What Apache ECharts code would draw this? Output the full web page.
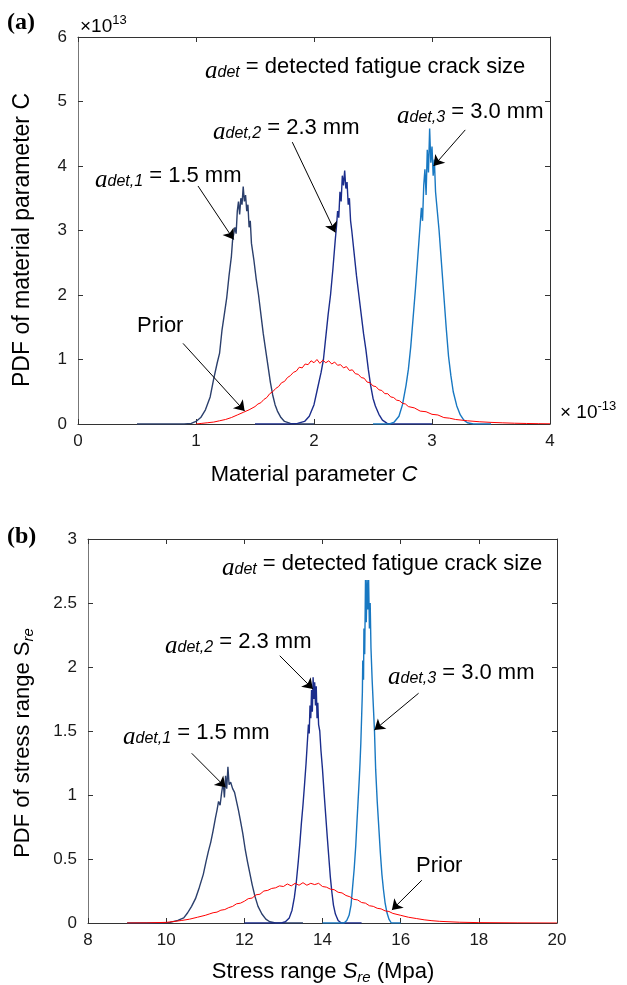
<!DOCTYPE html>
<html>
<head>
<meta charset="utf-8">
<script src="https://cdn.jsdelivr.net/npm/echarts@6/dist/echarts.min.js"></script>
<style>
  html, body { margin: 0; padding: 0; background: #fff; }
  #chart { width: 627px; height: 985px; }
</style>
</head>
<body>
<div id="chart"></div>
<script>
// ---- panel (a): material parameter C (x10^-13) vs PDF (x10^13) ----
var aTicksX = [0, 1, 2, 3, 4];
var aTicksY = [0, 1, 2, 3, 4, 5, 6];

var aDet1C   = [0.50, 0.90, 0.96, 1.00, 1.04, 1.08, 1.12, 1.15, 1.18, 1.20, 1.22, 1.24, 1.26, 1.28, 1.30, 1.31, 1.33, 1.34, 1.35, 1.36, 1.37, 1.38, 1.39, 1.40, 1.41, 1.42, 1.43, 1.44, 1.45, 1.46, 1.47, 1.49, 1.51, 1.53, 1.55, 1.57, 1.59, 1.61, 1.63, 1.65, 1.67, 1.69, 1.72, 1.75, 1.80, 1.85, 2.00];
var aDet1Pdf = [0, 0, 0.01, 0.04, 0.10, 0.22, 0.42, 0.70, 0.95, 1.10, 1.45, 1.70, 1.95, 2.30, 2.60, 2.85, 3.05, 2.95, 3.30, 3.45, 3.25, 3.50, 3.40, 3.68, 3.45, 3.55, 3.30, 3.40, 3.05, 3.15, 2.80, 2.55, 2.25, 2.00, 1.70, 1.40, 1.15, 0.90, 0.65, 0.45, 0.30, 0.20, 0.10, 0.04, 0.01, 0, 0];

var aDet2C   = [1.50, 1.80, 1.86, 1.92, 1.96, 2.00, 2.03, 2.06, 2.08, 2.10, 2.12, 2.14, 2.16, 2.18, 2.19, 2.20, 2.21, 2.22, 2.23, 2.24, 2.25, 2.26, 2.27, 2.28, 2.29, 2.30, 2.31, 2.32, 2.34, 2.36, 2.38, 2.40, 2.42, 2.44, 2.46, 2.48, 2.50, 2.52, 2.55, 2.58, 2.62, 2.66, 3.00];
var aDet2Pdf = [0, 0, 0.01, 0.04, 0.12, 0.30, 0.55, 0.80, 1.00, 1.35, 1.70, 2.00, 2.40, 2.85, 3.05, 3.30, 3.20, 3.60, 3.45, 3.85, 3.70, 3.93, 3.65, 3.75, 3.40, 3.50, 3.15, 3.00, 2.65, 2.30, 2.00, 1.70, 1.40, 1.15, 0.85, 0.60, 0.40, 0.28, 0.15, 0.06, 0.01, 0, 0];

var aDet3C   = [2.50, 2.64, 2.68, 2.72, 2.75, 2.78, 2.80, 2.82, 2.84, 2.86, 2.88, 2.89, 2.90, 2.91, 2.92, 2.93, 2.94, 2.95, 2.96, 2.97, 2.98, 2.99, 3.00, 3.01, 3.02, 3.03, 3.04, 3.06, 3.08, 3.10, 3.12, 3.14, 3.16, 3.18, 3.21, 3.24, 3.27, 3.30, 3.35, 3.50];
var aDet3Pdf = [0, 0, 0.03, 0.12, 0.30, 0.60, 0.85, 1.20, 1.65, 2.10, 2.60, 2.85, 3.10, 3.35, 3.15, 3.70, 3.95, 3.55, 4.25, 3.90, 4.58, 4.05, 4.30, 3.85, 4.10, 3.60, 3.40, 3.00, 2.50, 2.00, 1.50, 1.05, 0.75, 0.50, 0.28, 0.14, 0.06, 0.02, 0, 0];

var aPriorC   = [1.00, 1.05, 1.10, 1.15, 1.20, 1.25, 1.30, 1.35, 1.40, 1.45, 1.50, 1.525, 1.55, 1.575, 1.60, 1.625, 1.65, 1.675, 1.70, 1.725, 1.75, 1.775, 1.80, 1.825, 1.85, 1.875, 1.90, 1.925, 1.95, 1.975, 2.00, 2.025, 2.05, 2.075, 2.10, 2.125, 2.15, 2.175, 2.20, 2.225, 2.25, 2.275, 2.30, 2.325, 2.35, 2.375, 2.40, 2.425, 2.45, 2.475, 2.50, 2.525, 2.55, 2.575, 2.60, 2.625, 2.65, 2.675, 2.70, 2.725, 2.75, 2.775, 2.80, 2.85, 2.90, 2.95, 3.00, 3.05, 3.10, 3.15, 3.20, 3.30, 3.40, 3.50, 3.60, 3.70, 3.80, 3.90, 4.00];
var aPriorPdf = [0, 0.01, 0.02, 0.03, 0.05, 0.07, 0.10, 0.14, 0.18, 0.22, 0.27, 0.31, 0.33, 0.38, 0.41, 0.47, 0.50, 0.55, 0.58, 0.64, 0.66, 0.72, 0.75, 0.80, 0.82, 0.88, 0.87, 0.93, 0.92, 0.98, 0.95, 1.00, 0.94, 0.99, 0.95, 0.98, 0.93, 0.96, 0.91, 0.92, 0.87, 0.89, 0.83, 0.84, 0.78, 0.77, 0.72, 0.71, 0.65, 0.64, 0.59, 0.58, 0.53, 0.52, 0.47, 0.47, 0.42, 0.41, 0.37, 0.36, 0.32, 0.31, 0.27, 0.25, 0.20, 0.19, 0.15, 0.14, 0.10, 0.09, 0.07, 0.05, 0.035, 0.025, 0.018, 0.012, 0.008, 0.005, 0.003];

// ---- panel (b): stress range S_re (MPa) vs PDF ----
var bTicksX = [8, 10, 12, 14, 16, 18, 20];
var bTicksY = [0, 0.5, 1, 1.5, 2, 2.5, 3];

var bDet1S   = [9.0, 9.9, 10.1, 10.3, 10.45, 10.55, 10.65, 10.75, 10.85, 10.95, 11.02, 11.08, 11.14, 11.2, 11.26, 11.3, 11.34, 11.38, 11.42, 11.46, 11.49, 11.52, 11.55, 11.58, 11.61, 11.65, 11.7, 11.75, 11.8, 11.85, 11.9, 11.96, 12.02, 12.08, 12.14, 12.2, 12.27, 12.35, 12.45, 12.55, 12.65, 12.8, 13.5];
var bDet1Pdf = [0, 0, 0.005, 0.02, 0.04, 0.08, 0.13, 0.19, 0.28, 0.38, 0.48, 0.56, 0.63, 0.72, 0.82, 0.88, 0.95, 0.92, 1.02, 1.10, 0.98, 1.15, 1.05, 1.22, 1.08, 1.10, 1.05, 1.02, 0.95, 0.88, 0.80, 0.70, 0.58, 0.48, 0.39, 0.30, 0.21, 0.13, 0.07, 0.03, 0.01, 0, 0];

var bDet2S   = [12.0, 12.95, 13.05, 13.15, 13.22, 13.28, 13.33, 13.38, 13.42, 13.46, 13.5, 13.54, 13.58, 13.61, 13.64, 13.66, 13.68, 13.7, 13.72, 13.74, 13.76, 13.78, 13.8, 13.82, 13.84, 13.86, 13.88, 13.9, 13.93, 13.96, 14.0, 14.04, 14.08, 14.12, 14.16, 14.2, 14.24, 14.28, 14.33, 14.4, 14.48, 15.0];
var bDet2Pdf = [0, 0, 0.01, 0.04, 0.10, 0.20, 0.32, 0.48, 0.62, 0.78, 0.92, 1.08, 1.25, 1.40, 1.55, 1.48, 1.70, 1.60, 1.82, 1.65, 1.92, 1.75, 1.88, 1.70, 1.85, 1.60, 1.72, 1.55, 1.50, 1.35, 1.20, 1.02, 0.85, 0.68, 0.52, 0.36, 0.24, 0.14, 0.07, 0.02, 0, 0];

var bDet3S   = [14.0, 14.55, 14.62, 14.68, 14.73, 14.77, 14.81, 14.85, 14.88, 14.91, 14.94, 14.96, 14.98, 15.0, 15.02, 15.03, 15.05, 15.06, 15.08, 15.1, 15.12, 15.14, 15.16, 15.18, 15.2, 15.22, 15.24, 15.27, 15.3, 15.33, 15.36, 15.4, 15.44, 15.48, 15.52, 15.56, 15.6, 15.65, 15.7, 15.76, 16.0];
var bDet3Pdf = [0, 0, 0.02, 0.06, 0.14, 0.28, 0.42, 0.60, 0.78, 0.95, 1.12, 1.25, 1.40, 1.60, 1.80, 2.05, 1.90, 2.30, 2.10, 2.68, 2.35, 2.68, 2.45, 2.68, 2.30, 2.50, 2.15, 1.90, 1.70, 1.50, 1.20, 0.95, 0.75, 0.55, 0.38, 0.26, 0.16, 0.08, 0.03, 0, 0];

var bPriorS   = [9.0, 9.5, 10.0, 10.2, 10.4, 10.6, 10.8, 11.0, 11.1, 11.2, 11.3, 11.4, 11.5, 11.6, 11.7, 11.8, 11.9, 12.0, 12.1, 12.2, 12.3, 12.4, 12.5, 12.6, 12.7, 12.8, 12.9, 13.0, 13.1, 13.2, 13.3, 13.4, 13.5, 13.6, 13.7, 13.8, 13.9, 14.0, 14.1, 14.2, 14.3, 14.4, 14.5, 14.6, 14.7, 14.8, 14.9, 15.0, 15.1, 15.2, 15.3, 15.4, 15.5, 15.6, 15.7, 15.8, 16.0, 16.2, 16.4, 16.6, 16.8, 17.0, 17.5, 18.0, 19.0, 20.0];
var bPriorPdf = [0, 0.001, 0.005, 0.012, 0.02, 0.03, 0.045, 0.06, 0.07, 0.08, 0.085, 0.10, 0.105, 0.12, 0.13, 0.15, 0.155, 0.17, 0.19, 0.195, 0.22, 0.225, 0.25, 0.255, 0.27, 0.275, 0.29, 0.285, 0.305, 0.29, 0.31, 0.295, 0.315, 0.295, 0.31, 0.30, 0.31, 0.285, 0.28, 0.265, 0.26, 0.24, 0.235, 0.215, 0.205, 0.185, 0.18, 0.16, 0.155, 0.135, 0.13, 0.115, 0.11, 0.095, 0.09, 0.075, 0.06, 0.045, 0.035, 0.025, 0.018, 0.013, 0.006, 0.003, 0.001, 0];

// arrows: [from, to] in data units
var aArrows = [
    [[1.017, 3.69], [1.319, 2.86]],
    [[1.816, 4.37], [2.181, 2.97]],
    [[3.282, 4.56], [3.014, 4.00]],
    [[0.890, 1.25], [1.412, 0.20]]
];
var bArrows = [
    [[12.906, 2.088], [13.755, 1.828]],
    [[16.459, 1.795], [15.329, 1.508]],
    [[10.653, 1.326], [11.520, 1.060]],
    [[16.541, 0.334], [15.776, 0.102]]
];

var COL1 = '#2b3f6c', COL2 = '#1b2d8c', COL3 = '#1878c2', COLP = '#ff0000';
var SANS = 'Liberation Sans';
var SERIF = 'Liberation Serif';

function zip(xs, ys) {
    var out = [];
    for (var i = 0; i < xs.length; i++) out.push([xs[i], ys[i]]);
    return out;
}

function curve(xi, xs, ys, color, width) {
    return {
        type: 'line', xAxisIndex: xi, yAxisIndex: xi,
        data: zip(xs, ys), showSymbol: false, symbol: 'none',
        lineStyle: { color: color, width: width }, z: 3
    };
}

function arrows(list) {
    return {
        silent: true, symbol: ['none', 'arrow'], symbolSize: 10,
        label: { show: false },
        lineStyle: { color: '#000', width: 1, type: 'solid' },
        emphasis: { disabled: true },
        data: list.map(function (a) { return [{ coord: a[0] }, { coord: a[1] }]; })
    };
}

function axisPair(gi, min, max, step, isX) {
    var base = {
        type: 'value', gridIndex: gi, min: min, max: max, interval: step,
        splitLine: { show: false },
        axisLine: { show: true, onZero: false, lineStyle: { color: '#333', width: 1 } },
        axisTick: { show: true, inside: true, length: 5, lineStyle: { color: '#333' } }
    };
    var main = echarts.util.merge({
        position: isX ? 'bottom' : 'left',
        axisLabel: { show: true, color: '#1a1a1a', fontSize: 17, fontFamily: SANS, margin: isX ? 9 : 11 }
    }, base, true);
    if (!isX) main.axisLine.lineStyle.color = '#777';
    var other = echarts.util.merge({
        position: isX ? 'top' : 'right',
        axisLabel: { show: false }
    }, echarts.util.clone(base), true);
    return [main, other];
}

var rich = {
    a: { fontFamily: SERIF, fontStyle: 'italic', fontSize: 25, fill: '#000', padding: [9, 0, 0, 0] },
    s: { fontFamily: SANS, fontStyle: 'italic', fontSize: 16, fill: '#000', padding: [12, 0, 0, 0] },
    t: { fontFamily: SANS, fontSize: 22, fill: '#000' },
    it: { fontFamily: SANS, fontStyle: 'italic', fontSize: 22, fill: '#000' },
    sup: { fontFamily: SANS, fontSize: 13, fill: '#000', padding: [0, 0, 13, 0] },
    n: { fontFamily: SANS, fontSize: 19, fill: '#000' },
    rs: { fontFamily: SANS, fontStyle: 'italic', fontSize: 15, fill: '#000', padding: [12, 0, 0, 0] }
};

function txt(x, y, text, extra) {
    var el = {
        type: 'text', x: x, y: y, z: 10,
        style: { text: text, rich: rich, fontFamily: SANS, fontSize: 22, fill: '#000', align: 'left', verticalAlign: 'middle' }
    };
    if (extra) {
        for (var k in extra) {
            if (k === 'style') { for (var s in extra.style) el.style[s] = extra.style[s]; }
            else el[k] = extra[k];
        }
    }
    return el;
}

var xa = axisPair(0, 0, 4, 1, true), ya = axisPair(0, 0, 6, 1, false);
var xb = axisPair(1, 8, 20, 2, true), yb = axisPair(1, 0, 3, 0.5, false);

var chart = echarts.init(document.getElementById('chart'), null, { renderer: 'canvas' });

var option = {
    animation: false,
    backgroundColor: '#fff',
    grid: [
        { left: 78, top: 37, width: 472, height: 387, outerBoundsMode: 'none' },
        { left: 88, top: 539, width: 469, height: 384, outerBoundsMode: 'none' }
    ],
    xAxis: [xa[0], xa[1], xb[0], xb[1]],
    yAxis: [ya[0], ya[1], yb[0], yb[1]],
    series: [
        curve(0, aDet1C, aDet1Pdf, COL1, 1.4),
        curve(0, aDet2C, aDet2Pdf, COL2, 1.4),
        curve(0, aDet3C, aDet3Pdf, COL3, 1.4),
        echarts.util.extend(curve(0, aPriorC, aPriorPdf, COLP, 1), { markLine: arrows(aArrows) }),
        curve(2, bDet1S, bDet1Pdf, COL1, 1.4),
        curve(2, bDet2S, bDet2Pdf, COL2, 1.4),
        curve(2, bDet3S, bDet3Pdf, COL3, 1.4),
        echarts.util.extend(curve(2, bPriorS, bPriorPdf, COLP, 1), { markLine: arrows(bArrows) })
    ],
    graphic: [
        // panel (a)
        txt(7, 23, '(a)', { style: { fontFamily: SERIF, fontWeight: 'bold', fontSize: 24 } }),
        txt(80, 27, '{n|\u00d710}{sup|13}'),
        txt(560, 413, '{n|\u00d7 10}{sup|-13}'),
        txt(205, 67, '{a|a}{s|det}{t| = detected fatigue crack size}'),
        txt(213, 128, '{a|a}{s|det,2}{t| = 2.3 mm}'),
        txt(397, 112, '{a|a}{s|det,3}{t| = 3.0 mm}'),
        txt(95, 176, '{a|a}{s|det,1}{t| = 1.5 mm}'),
        txt(137, 326, 'Prior'),
        txt(314, 475, '{t|Material parameter }{it|C}', { style: { align: 'center' } }),
        txt(23, 240, 'PDF of material parameter C', { rotation: Math.PI / 2, style: { align: 'center', fontSize: 23 } }),
        // panel (b)
        txt(7, 537, '(b)', { style: { fontFamily: SERIF, fontWeight: 'bold', fontSize: 24 } }),
        txt(222, 564, '{a|a}{s|det}{t| = detected fatigue crack size}'),
        txt(165, 642, '{a|a}{s|det,2}{t| = 2.3 mm}'),
        txt(388, 673, '{a|a}{s|det,3}{t| = 3.0 mm}'),
        txt(123, 733, '{a|a}{s|det,1}{t| = 1.5 mm}'),
        txt(416, 866, 'Prior'),
        txt(323, 972, '{t|Stress range }{it|S}{rs|re}{t| (Mpa)}', { style: { align: 'center' } }),
        txt(23, 743, '{t|PDF of stress range S}{rs|re}', { rotation: Math.PI / 2, style: { align: 'center' } })
    ]
};

chart.setOption(option);
</script>
</body>
</html>
